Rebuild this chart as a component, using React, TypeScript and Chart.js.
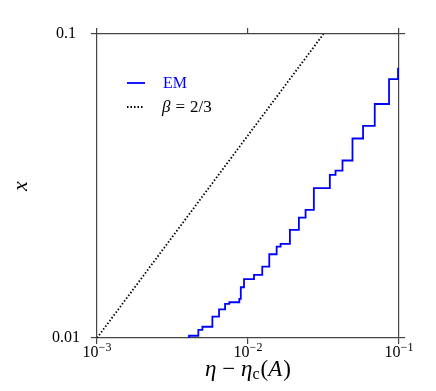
import React, { useEffect, useRef } from "react";
import { Chart, registerables } from "chart.js";
Chart.register(...registerables);

// EM staircase (eta - eta_c(A), x) — each point: vertical step at previous eta, then level held up to this eta
const emEta = [0.00407, 0.00469, 0.00499, 0.00581, 0.00643, 0.00705, 0.00752, 0.00876, 0.00896, 0.00941, 0.01096, 0.01243, 0.01383, 0.01548, 0.01644, 0.01895, 0.02173, 0.02406, 0.0273, 0.03483, 0.03799, 0.04225, 0.0492, 0.05781, 0.06909, 0.0859, 0.09849, 0.1];
const emX = [0.0098, 0.01017, 0.01063, 0.01089, 0.01175, 0.01243, 0.01294, 0.01311, 0.01344, 0.01469, 0.01561, 0.01612, 0.01717, 0.01886, 0.01998, 0.0204, 0.02268, 0.02489, 0.0264, 0.03112, 0.03441, 0.03555, 0.03836, 0.04531, 0.0499, 0.05884, 0.07107, 0.07686];

// beta = 2/3 reference line
const fitEta = [0.001, 0.0316];
const fitX = [0.01, 0.1];

const xTickValues = [0.001, 0.01, 0.1];
const xTickExps = ["\u22123", "\u22122", "\u22121"];
const yTickValues = [0.01, 0.1];
const yTickLabels = ["0.01", "0.1"];

const SERIF = '"Liberation Serif", "DejaVu Serif", serif';
const AXIS_COLOR = "#444";
const BLUE = "#0000ff";

type Run = { t: string; font: string; dy?: number; color?: string; gap?: number };
function drawRuns(ctx: CanvasRenderingContext2D, runs: Run[], x: number, y: number, align: "left" | "center") {
  let total = 0;
  for (const r of runs) {
    ctx.font = r.font;
    total += ctx.measureText(r.t).width + (r.gap || 0);
  }
  let cx = align === "center" ? x - total / 2 : x;
  for (const r of runs) {
    ctx.font = r.font;
    ctx.fillStyle = r.color || "#000";
    ctx.fillText(r.t, cx, y + (r.dy || 0));
    cx += ctx.measureText(r.t).width + (r.gap || 0);
  }
}

const decorPlugin = {
  id: "decor",
  afterDraw(chart: any) {
    const ctx: CanvasRenderingContext2D = chart.ctx;
    const xs = chart.scales.x;
    const area = chart.chartArea;
    ctx.save();
    ctx.textAlign = "left";
    ctx.textBaseline = "alphabetic";
    // x tick labels 10^n
    xTickValues.forEach((v, i) => {
      const px = xs.getPixelForValue(v);
      drawRuns(ctx, [
        { t: "10", font: `16px ${SERIF}` },
        { t: xTickExps[i], font: `12px ${SERIF}`, dy: -6 },
      ], px, area.bottom + 19, "center");
    });
    // x title
    const cxT = (area.left + area.right) / 2;
    drawRuns(ctx, [
      { t: "\u03b7", font: `italic 23px ${SERIF}` },
      { t: " \u2212 ", font: `23px ${SERIF}` },
      { t: "\u03b7", font: `italic 23px ${SERIF}` },
      { t: "c", font: `16px ${SERIF}`, dy: 3, gap: 1 },
      { t: "(", font: `23px ${SERIF}` },
      { t: "A", font: `italic 23px ${SERIF}`, gap: 1 },
      { t: ")", font: `23px ${SERIF}` },
    ], cxT, area.bottom + 38, "center");
    // y title
    ctx.save();
    ctx.translate(21, (area.top + area.bottom) / 2);
    ctx.rotate(-Math.PI / 2);
    ctx.textAlign = "center";
    ctx.textBaseline = "middle";
    ctx.font = `italic 22px ${SERIF}`;
    ctx.fillStyle = "#000";
    ctx.fillText("x", 0, 0);
    ctx.restore();
    // legend
    const lx = area.left + 30;
    const ly1 = area.top + 49;
    const ly2 = area.top + 73;
    ctx.lineCap = "butt";
    ctx.strokeStyle = BLUE;
    ctx.lineWidth = 1.8;
    ctx.setLineDash([]);
    ctx.beginPath();
    ctx.moveTo(lx, ly1);
    ctx.lineTo(lx + 18, ly1);
    ctx.stroke();
    ctx.strokeStyle = "#000";
    ctx.lineWidth = 1.8;
    ctx.setLineDash([1.5, 2]);
    ctx.beginPath();
    ctx.moveTo(lx, ly2);
    ctx.lineTo(lx + 17, ly2);
    ctx.stroke();
    ctx.setLineDash([]);
    ctx.textBaseline = "middle";
    drawRuns(ctx, [{ t: "EM", font: `16px ${SERIF}`, color: BLUE }], lx + 36, ly1 + 1, "left");
    drawRuns(ctx, [
      { t: "\u03b2", font: `italic 17px ${SERIF}`, gap: 5 },
      { t: "=", font: `17px ${SERIF}`, gap: 5 },
      { t: "2/3", font: `17px ${SERIF}` },
    ], lx + 35, ly2 + 1, "left");
    ctx.restore();
  },
};

function axisCommon(pos: string, ticksOn: boolean, size: number, values: number[]) {
  const horiz = pos === "top" || pos === "bottom";
  return {
    type: "logarithmic" as const,
    position: pos,
    min: values[0],
    max: values[values.length - 1],
    afterBuildTicks: (s: any) => {
      s.ticks = values.map((v) => ({ value: v }));
    },
    afterFit: (s: any) => {
      if (horiz) s.height = size;
      else s.width = size;
    },
    grid: {
      display: true,
      drawOnChartArea: false,
      drawTicks: true,
      tickLength: 6,
      color: AXIS_COLOR,
      lineWidth: 1.2,
    },
    border: { display: true, color: AXIS_COLOR, width: 1.2 },
    ticks: { display: ticksOn },
  };
}

export default function App() {
  const ref = useRef<HTMLCanvasElement>(null);
  useEffect(() => {
    if (!ref.current) return;
    const yAxis: any = axisCommon("left", true, 97, yTickValues);
    yAxis.ticks = {
      display: true,
      crossAlign: "center",
      padding: 11,
      color: "#000",
      font: { family: SERIF, size: 16 },
      callback: (v: number) => {
        const i = yTickValues.findIndex((t) => Math.abs(t - v) < 1e-9);
        return i >= 0 ? yTickLabels[i] : "";
      },
    };
    const chart = new Chart(ref.current, {
      type: "line",
      data: {
        datasets: [
          {
            label: "EM",
            data: emEta.map((e, i) => ({ x: e, y: emX[i] })),
            borderColor: BLUE,
            backgroundColor: BLUE,
            borderWidth: 1.8,
            stepped: "after",
            pointRadius: 0,
            fill: false,
            xAxisID: "x",
            yAxisID: "y",
          },
          {
            label: "\u03b2 = 2/3",
            data: fitEta.map((e, i) => ({ x: e, y: fitX[i] })),
            borderColor: "#000",
            borderWidth: 1.8,
            borderDash: [1.5, 2],
            pointRadius: 0,
            fill: false,
            xAxisID: "x",
            yAxisID: "y",
          },
        ],
      },
      options: {
        animation: false,
        responsive: false,
        layout: { padding: 0 },
        plugins: { legend: { display: false }, tooltip: { enabled: false } },
        scales: {
          x: axisCommon("bottom", false, 53, xTickValues) as any,
          x2: axisCommon("top", false, 34, xTickValues) as any,
          y: yAxis,
          y2: axisCommon("right", false, 37, yTickValues) as any,
        },
      },
      plugins: [decorPlugin],
    });
    return () => chart.destroy();
  }, []);
  return (
    <div style={{ position: "fixed", left: 0, top: 0, width: 436, height: 391, background: "#fff" }}>
      <canvas ref={ref} width={436} height={391} style={{ display: "block" }} />
    </div>
  );
}
